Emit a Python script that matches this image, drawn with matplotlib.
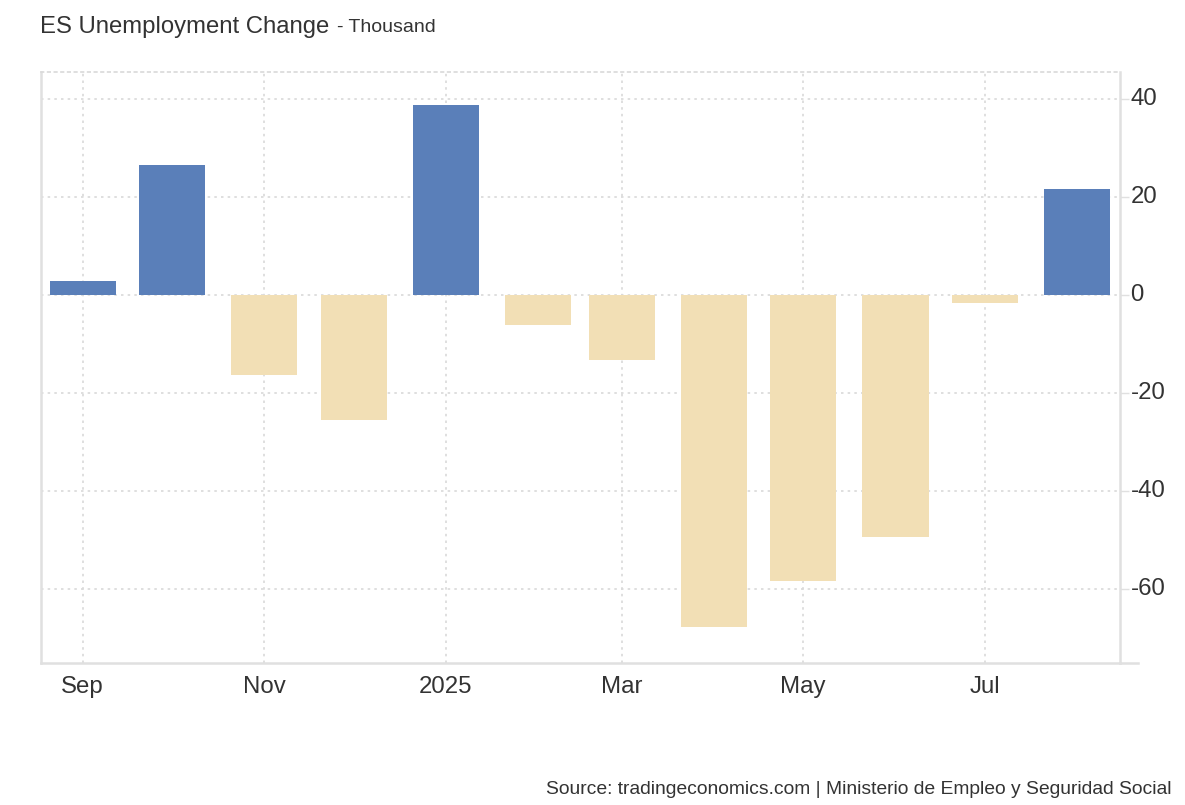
import matplotlib
matplotlib.use("Agg")
import matplotlib.pyplot as plt
import matplotlib.dates as mdates
import matplotlib.transforms as mtransforms
import numpy as np
import datetime as dt

plt.rcParams['font.family'] = ['Liberation Sans', 'DejaVu Sans']

months = ["2024-09", "2024-10", "2024-11", "2024-12", "2025-01", "2025-02",
          "2025-03", "2025-04", "2025-05", "2025-06", "2025-07", "2025-08"]
values = [3.0, 26.7, -16.2, -25.5, 38.9, -6.0, -13.1, -67.6, -58.2, -49.2, -1.5, 21.8]
xtick_months = ["2024-09", "2024-11", "2025-01", "2025-03", "2025-05", "2025-07"]
xtick_labels = ["Sep", "Nov", "2025", "Mar", "May", "Jul"]
yticks = [-60, -40, -20, 0, 20, 40]

pos_color = "#5a7fb9"
neg_color = "#f2dfb5"
grid_color = "#d9d9d9"
axis_color = "#e0e0e0"
text_color = "#333333"

def to_date(s):
    y, m = s.split("-")
    return dt.datetime(int(y), int(m), 1)

dates = [to_date(m) for m in months]
xnum = mdates.date2num(dates)

fig = plt.figure(figsize=(11.85, 8.05), dpi=100)
ax = fig.add_axes([41/1185, 1-663/805, (1120-41)/1185, (663-72)/805])

colors = [pos_color if v >= 0 else neg_color for v in values]
ax.bar(xnum, values, width=22.2, color=colors, zorder=3)

ax.set_xlim(mdates.date2num(dt.datetime(2024, 8, 18)), mdates.date2num(dt.datetime(2025, 8, 15, 10)))
ax.set_ylim(-75, 45.6)

ax.set_xticks(mdates.date2num([to_date(m) for m in xtick_months]))
ax.set_xticklabels(xtick_labels)
ax.set_yticks(yticks)
ax.set_yticklabels([str(t) for t in yticks])

ax.yaxis.tick_right()
ax.tick_params(axis='y', length=6.5, width=1, color=axis_color, labelsize=17.3, labelcolor=text_color, pad=1)
ax.tick_params(axis='x', length=0, labelsize=17.3, labelcolor=text_color, pad=9.5)

# nudge y labels up slightly
offset = mtransforms.ScaledTranslation(0, 2.5/100, fig.dpi_scale_trans)
for lab in ax.get_yticklabels():
    lab.set_transform(lab.get_transform() + offset)

ax.grid(True, color=grid_color, linestyle=(0, (1.5, 2.5)), linewidth=1.2, zorder=0)

for side in ['left', 'bottom', 'right']:
    ax.spines[side].set_color(axis_color)
    ax.spines[side].set_linewidth(1.8)
ax.spines['top'].set_color(grid_color)
ax.spines['top'].set_linestyle((0, (1.5, 2.5)))
ax.spines['top'].set_linewidth(1.2)

# extend bottom baseline to the right beyond plot area
ax.plot([1.0, 1.017], [0, 0], transform=ax.transAxes, color=axis_color, lw=1.8, clip_on=False)

fig.text(40/1185, 1-27/805, "ES Unemployment Change", fontsize=17.2, color=text_color, va='center', ha='left')
fig.text(337/1185, 1-28/805, "- Thousand", fontsize=14, color=text_color, va='center', ha='left')
fig.text(1172/1185, 1-789/805, "Source: tradingeconomics.com | Ministerio de Empleo y Seguridad Social",
         fontsize=13.9, color=text_color, va='center', ha='right')

fig.savefig("out.png", dpi=100, facecolor="white")
